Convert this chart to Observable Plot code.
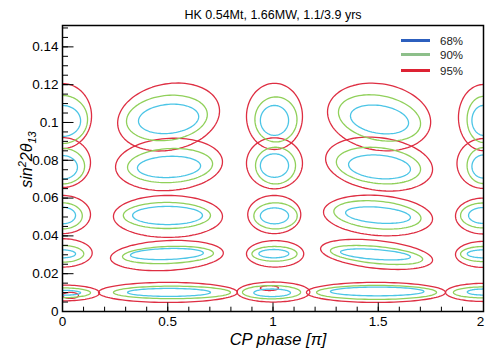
<!DOCTYPE html>
<html>
<head>
<meta charset="utf-8">
<script src="https://cdn.jsdelivr.net/npm/d3@7"></script>
<script src="https://cdn.jsdelivr.net/npm/@observablehq/plot@0.6"></script>
<style>
  body { margin: 0; background: #fff; }
  #chart { position: relative; width: 485px; height: 348px; }
  .legend { position: absolute; left: 0; top: 0; font: 11.5px "Liberation Sans", Arial, sans-serif; color: #222; }
  .legend .row { position: absolute; left: 401px; display: flex; align-items: center; height: 12px; margin-top: -6px; line-height: 12px; }
  .legend .bar { width: 29px; height: 3px; margin-right: 10px; }
</style>
</head>
<body>
<div id="chart"></div>
<script>
// Allowed regions in (CP phase [π], sin²2θ13): each island is [cx, cy, rx, ry, tilt]
const contours95 = [
  [0, 0.1034, 0.138, 0.0172], [0, 0.0788, 0.133, 0.0132], [0, 0.0513, 0.133, 0.0101],
  [0, 0.0310, 0.141, 0.0075], [0, 0.0098, 0.176, 0.0042], [0.038, 0.0085, 0.038, 0.0016],
  [0.504, 0.1029, 0.242, 0.0177, -0.18], [0.506, 0.0778, 0.254, 0.0138, -0.1], [0.501, 0.0503, 0.259, 0.0111],
  [0.496, 0.0296, 0.268, 0.0079, -0.17], [0.501, 0.0101, 0.330, 0.0053],
  [1.007, 0.1032, 0.133, 0.0175], [1.007, 0.0784, 0.133, 0.0135], [1.006, 0.0513, 0.126, 0.0101],
  [1.010, 0.0305, 0.136, 0.0070], [1.002, 0.0103, 0.173, 0.0053], [0.983, 0.0124, 0.043, 0.0013],
  [1.504, 0.1029, 0.245, 0.0177, 0.15], [1.504, 0.0780, 0.254, 0.0140, 0.2], [1.499, 0.0508, 0.259, 0.0106, 0.17],
  [1.492, 0.0302, 0.266, 0.0074, 0.4], [1.489, 0.0101, 0.330, 0.0053],
  [2, 0.1026, 0.119, 0.0175], [2, 0.0783, 0.126, 0.0132], [2, 0.0505, 0.133, 0.0095],
  [2, 0.0302, 0.133, 0.0069], [2, 0.0101, 0.180, 0.0048]
];
const contours90 = [
  [0, 0.1016, 0.119, 0.0127], [0, 0.0769, 0.105, 0.0094], [0, 0.0506, 0.094, 0.0069],
  [0, 0.0305, 0.101, 0.0044], [0, 0.0099, 0.133, 0.0026],
  [0.496, 0.1024, 0.192, 0.0119, -0.15], [0.511, 0.0772, 0.202, 0.0090, -0.1], [0.496, 0.0508, 0.207, 0.0069],
  [0.501, 0.0299, 0.216, 0.0045, -0.2], [0.520, 0.0101, 0.278, 0.0033],
  [1.014, 0.1016, 0.100, 0.0119], [1.012, 0.0772, 0.095, 0.0097], [1.012, 0.0506, 0.103, 0.0069],
  [1.007, 0.0305, 0.107, 0.0039], [0.993, 0.0102, 0.138, 0.0035],
  [1.506, 0.1024, 0.195, 0.0119, 0.25], [1.501, 0.0772, 0.200, 0.0095, 0.2], [1.496, 0.0511, 0.207, 0.0073, 0.25],
  [1.492, 0.0299, 0.219, 0.0045, 0.5], [1.492, 0.0101, 0.285, 0.0037],
  [2, 0.1016, 0.078, 0.0122], [2, 0.0772, 0.078, 0.0095], [2, 0.0508, 0.109, 0.0066],
  [2, 0.0304, 0.109, 0.0040], [2, 0.0101, 0.143, 0.0029]
];
const contours68 = [
  [0, 0.1008, 0.086, 0.0082], [0, 0.0763, 0.071, 0.0062], [0, 0.0508, 0.062, 0.0044],
  [0, 0.0305, 0.062, 0.0021], [0, 0.0099, 0.086, 0.0013],
  [0.504, 0.1019, 0.143, 0.0077, -0.15], [0.506, 0.0765, 0.150, 0.0056, -0.1], [0.499, 0.0508, 0.166, 0.0048],
  [0.496, 0.0304, 0.173, 0.0029, -0.2], [0.506, 0.0101, 0.197, 0.0021],
  [1.007, 0.1011, 0.067, 0.0079], [1.007, 0.0772, 0.067, 0.0062], [1.007, 0.0506, 0.067, 0.0042],
  [1.004, 0.0306, 0.071, 0.0022], [0.996, 0.0099, 0.087, 0.0020],
  [1.506, 0.1016, 0.138, 0.0074, 0.25], [1.506, 0.0765, 0.147, 0.0062, 0.2], [1.499, 0.0510, 0.154, 0.0042, 0.3],
  [1.487, 0.0302, 0.166, 0.0026, 0.5], [1.495, 0.0106, 0.222, 0.0023],
  [2, 0.1011, 0.055, 0.0079], [2, 0.0767, 0.055, 0.0061], [2, 0.0508, 0.071, 0.0042],
  [2, 0.0305, 0.077, 0.0021], [2, 0.0103, 0.077, 0.0016]
];

const levels = ["68%", "90%", "95%"];
const contourColors = ["#4cc5e6", "#90d05a", "#de2e42"];
const legendColors = ["#2c5fbe", "#8dbf8a", "#dd2233"];
const legendY = [40.5, 54.5, 70.5];

const xMajorTicks = [0, 0.5, 1, 1.5, 2];
const xTickLabels = ["0", "0.5", "1", "1.5", "2"];
const yMajorTicks = [0, 0.02, 0.04, 0.06, 0.08, 0.1, 0.12, 0.14];
const yTickLabels = ["0", "0.02", "0.04", "0.06", "0.08", "0.1", "0.12", "0.14"];
const xMinorTicks = d3.range(0, 2.0001, 0.1);
const yMinorTicks = d3.range(0, 0.1501, 0.005);

const title = "HK 0.54Mt, 1.66MW, 1.1/3.9 yrs";
const xTitle = "CP phase [π]";
const yTitleParts = [["sin", 0], ["2", -1], ["2θ", 0], ["13", 1]];
const yTitle = yTitleParts.map(p => p[0]).join("");

// Trace each island as a closed outline
function outline(islands, level) {
  return islands.flatMap(([cx, cy, rx, ry, tilt = 0], k) =>
    d3.range(97).map(i => {
      const t = (2 * Math.PI * i) / 96;
      return {
        id: `${level}-${k}`,
        x: cx + rx * Math.cos(t),
        y: cy + ry * Math.sin(t) - tilt * ry * Math.cos(t)
      };
    })
  );
}

const rings = [contours68, contours90, contours95].map((c, i) => outline(c, levels[i]));

const svg = Plot.plot({
  width: 485,
  height: 348,
  marginLeft: 62,
  marginRight: 2,
  marginTop: 25,
  marginBottom: 37,
  style: { fontFamily: "'Liberation Sans', Arial, sans-serif", fontSize: "13px", color: "black", background: "white", overflow: "visible" },
  x: { domain: [0, 2], label: null },
  y: { domain: [0, 0.1513], label: null },
  marks: [
    ...[2, 1, 0].map(i =>
      Plot.line(rings[i], { x: "x", y: "y", z: "id", stroke: contourColors[i], strokeWidth: 1.3, curve: "linear-closed", clip: true })
    ),
    Plot.axisX(xMinorTicks, { tickSize: -4.3, fill: "none", strokeWidth: 1, label: null }),
    Plot.axisX(xMajorTicks, { tickSize: -8.5, fill: "none", strokeWidth: 1, label: null }),
    Plot.axisX(xMajorTicks, { tickSize: 0, stroke: "none", tickPadding: 5, fontSize: 13.5, label: null,
      tickFormat: d => xTickLabels[xMajorTicks.indexOf(d)] }),
    Plot.axisY(yMinorTicks, { tickSize: -6, fill: "none", strokeWidth: 1, label: null }),
    Plot.axisY(yMajorTicks, { tickSize: -11.5, fill: "none", strokeWidth: 1, label: null }),
    Plot.axisY(yMajorTicks, { tickSize: 0, stroke: "none", tickPadding: 4, fontSize: 13.5, label: null,
      tickFormat: d => yTickLabels[yMajorTicks.indexOf(d)] }),
    Plot.frame({ stroke: "black", strokeWidth: 1.5 }),
    Plot.text([title], { frameAnchor: "top", lineAnchor: "bottom", dy: -7, fontSize: 12.5 }),
    Plot.text([xTitle], { frameAnchor: "bottom", lineAnchor: "bottom", dy: 33, dx: 5, fontSize: 16.5, fontStyle: "italic" }),
    Plot.text([yTitle], { frameAnchor: "left", textAnchor: "middle", lineAnchor: "bottom", rotate: -90, dx: -31, dy: -9, fontSize: 16, fontStyle: "italic" })
  ]
});

// Superscript / subscript for the y title
const yTitleNode = [...svg.querySelectorAll("text")].find(t => t.textContent === yTitle);
if (yTitleNode) {
  yTitleNode.textContent = "";
  let shift = 0;
  for (const [s, pos] of yTitleParts) {
    const ts = document.createElementNS("http://www.w3.org/2000/svg", "tspan");
    const target = pos === -1 ? -6 : pos === 1 ? 4 : 0;
    ts.setAttribute("dy", target - shift);
    shift = target;
    if (pos !== 0) ts.setAttribute("font-size", "11");
    ts.textContent = s;
    yTitleNode.appendChild(ts);
  }
}

// Keep the last x tick label inside the canvas
const lastX = xTickLabels[xTickLabels.length - 1];
const xLabelNodes = [...svg.querySelectorAll("g[aria-label='x-axis tick label'] text")];
const lastNode = xLabelNodes.find(t => t.textContent === lastX);
if (lastNode) lastNode.setAttribute("dx", -3);

const chart = document.getElementById("chart");
chart.appendChild(svg);

// Legend
const legend = document.createElement("div");
legend.className = "legend";
levels.forEach((lv, i) => {
  const row = document.createElement("div");
  row.className = "row";
  row.style.top = legendY[i] + "px";
  const bar = document.createElement("span");
  bar.className = "bar";
  bar.style.background = legendColors[i];
  const label = document.createElement("span");
  label.textContent = lv;
  row.append(bar, label);
  legend.appendChild(row);
});
chart.appendChild(legend);
</script>
</body>
</html>
